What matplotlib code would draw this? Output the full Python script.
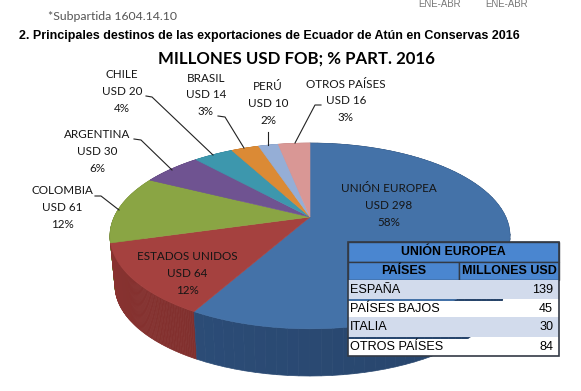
import matplotlib
matplotlib.use("Agg")
import matplotlib.pyplot as plt
import numpy as np
from matplotlib.patches import Polygon, Rectangle

countries = ["UNIÓN EUROPEA", "ESTADOS UNIDOS", "COLOMBIA", "ARGENTINA", "CHILE", "BRASIL", "PERÚ", "OTROS PAÍSES"]
usd = [298, 64, 61, 30, 20, 14, 10, 16]
pct = [58, 12, 12, 6, 4, 3, 2, 3]
top_colors = ["#4472a8", "#a5413f", "#8aa544", "#6f5391", "#3d97ad", "#db8a35", "#95aed6", "#d99795"]
side_colors = ["#2b4b75", "#7f2f2d", "#66792f", "#4f3a69", "#2b6e7f", "#a06425", "#6c80a0", "#a06e6c"]

table_title = "UNIÓN EUROPEA"
table_headers = ["PAÍSES", "MILLONES USD"]
table_countries = ["ESPAÑA", "PAÍSES BAJOS", "ITALIA", "OTROS PAÍSES"]
table_values = [139, 45, 30, 84]

LABEL_POS = {
    "UNIÓN EUROPEA": (389, 189), "ESTADOS UNIDOS": (187, 257), "COLOMBIA": (62, 191), "ARGENTINA": (97, 135),
    "CHILE": (122, 75), "BRASIL": (206, 78), "PERÚ": (268, 87), "OTROS PAÍSES": (346, 84),
}
LEADERS = [
    [(146, 96), (152, 97), (213, 155)],
    [(218, 116), (225, 117), (244, 148)],
    [(268, 132), (268, 145)],
    [(321, 105), (315, 105), (295, 143)],
    [(134, 139), (141, 140), (172, 170)],
    [(95, 196), (101, 196), (119, 210)],
]

# pie is a circle seen in perspective, so the apex sits above the ellipse centre
APEX_X, APEX_Y = 310, 217
A, B, K = 195.8, 89.0, 0.204
DEPTH = 50
BOTTOM_SCALE = 0.975


def project(theta):
    u, v = np.sin(theta), np.cos(theta)
    d = 1 + K * v
    return APEX_X + A * u / d, APEX_Y - B * v / d


def shade(color, f):
    rgb = np.array(matplotlib.colors.to_rgb(color))
    return tuple(np.clip(rgb * f, 0, 1))


plt.rcParams["font.family"] = ["Lato", "DejaVu Sans"]
fig = plt.figure(figsize=(5.81, 3.91), dpi=100)
ax = fig.add_axes([0, 0, 1, 1])
ax.set_xlim(0, 581)
ax.set_ylim(391, 0)
ax.axis("off")

bounds = np.concatenate([[0], np.cumsum(usd)]) / np.sum(usd) * 2 * np.pi

# side wall first, top faces go over it
for i in reversed(range(len(usd))):
    th = np.linspace(bounds[i], bounds[i + 1], 80)
    x, y = project(th)
    bx = APEX_X + (x - APEX_X) * BOTTOM_SCALE
    by = APEX_Y + (y - APEX_Y) * BOTTOM_SCALE + DEPTH
    for j in range(len(th) - 1):
        f = 0.85 + 0.25 * (th[j] - np.pi / 2) / np.pi
        quad = [(x[j], y[j]), (x[j + 1], y[j + 1]), (bx[j + 1], by[j + 1]), (bx[j], by[j])]
        c = shade(side_colors[i], f)
        ax.add_patch(Polygon(quad, closed=True, fc=c, ec=c, lw=0.5, zorder=1))

for i in range(len(usd)):
    th = np.linspace(bounds[i], bounds[i + 1], 80)
    x, y = project(th)
    pts = [(APEX_X, APEX_Y)] + list(zip(x, y))
    ax.add_patch(Polygon(pts, closed=True, fc=top_colors[i], ec=top_colors[i], lw=0.4, zorder=2))

for line in LEADERS:
    xs, ys = zip(*line)
    ax.plot(xs, ys, color="#222222", lw=0.8, zorder=3)

for name, val, p in zip(countries, usd, pct):
    lx, ly = LABEL_POS[name]
    for k, s in enumerate([name, f"USD {val}", f"{p}%"]):
        ax.text(lx, ly + k * 16.7, s, ha="center", va="center", fontsize=8.4, color="#151515", zorder=4)

ax.text(440, 3.8, "ENE-ABR", ha="center", va="center", fontsize=6.9, color="#777777",
        family="Liberation Sans")
ax.text(507, 3.8, "ENE-ABR", ha="center", va="center", fontsize=6.9, color="#777777",
        family="Liberation Sans")
ax.text(48, 17, "*Subpartida 1604.14.10", ha="left", va="center", fontsize=8.8, color="#555555")
ax.text(19, 36, "2. Principales destinos de las exportaciones de Ecuador de Atún en Conservas 2016",
        ha="left", va="center", fontsize=9.0, fontweight="bold", color="black", family="Liberation Sans")
ax.text(296, 59, "MILLONES USD FOB; % PART. 2016", ha="center", va="center", fontsize=12.1,
        fontweight="bold", color="black")

# inset table, the 1px gap above the white rows lets the pie show through like the original
TX0, TX1, TXM = 348, 559, 459
row_y = [242, 262, 280, 299, 317, 337, 356]
HEAD = "#4a86d0"
EDGE = "#333a45"
ax.add_patch(Rectangle((TX0, row_y[0]), TX1 - TX0, row_y[1] - row_y[0], fc=HEAD, ec=EDGE, lw=1, zorder=5))
ax.add_patch(Rectangle((TX0, row_y[1]), TXM - TX0, row_y[2] - row_y[1], fc=HEAD, ec=EDGE, lw=1, zorder=5))
ax.add_patch(Rectangle((TXM, row_y[1]), TX1 - TXM, row_y[2] - row_y[1], fc=HEAD, ec=EDGE, lw=1, zorder=5))
tfont = dict(family="Liberation Sans", color="black", zorder=7, va="center")
ax.text((TX0 + TX1) / 2, (row_y[0] + row_y[1]) / 2, table_title, ha="center", fontsize=8.9, fontweight="bold", **tfont)
ax.text((TX0 + TXM) / 2, (row_y[1] + row_y[2]) / 2, table_headers[0], ha="center", fontsize=9, fontweight="bold", **tfont)
ax.text((TXM + TX1) / 2, (row_y[1] + row_y[2]) / 2, table_headers[1], ha="center", fontsize=9, fontweight="bold", **tfont)
for r, (name, val) in enumerate(zip(table_countries, table_values)):
    y0, y1 = row_y[r + 2], row_y[r + 3]
    fc = "#d2dbec" if r % 2 == 0 else "white"
    gap = 0 if r % 2 == 0 else 1.5
    ax.add_patch(Rectangle((TX0, y0 + gap), TX1 - TX0, y1 - y0 - gap, fc=fc, ec="none", zorder=5))
    ax.text(TX0 + 2, (y0 + y1) / 2 + 0.5, name, ha="left", fontsize=9.1, **tfont)
    ax.text(TX1 - 6, (y0 + y1) / 2 + 0.5, str(val), ha="right", fontsize=9.1, **tfont)
ax.add_patch(Rectangle((TX0, row_y[0]), TX1 - TX0, row_y[-1] - row_y[0], fc="none", ec=EDGE, lw=1.2, zorder=6))

fig.savefig("out.png", dpi=100)
